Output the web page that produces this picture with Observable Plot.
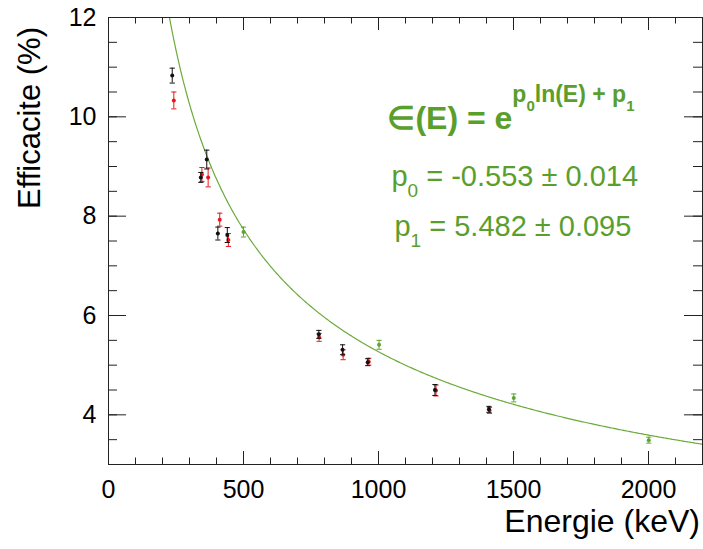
<!DOCTYPE html>
<html>
<head>
<meta charset="utf-8">
<script src="https://cdn.jsdelivr.net/npm/d3@7"></script>
<script src="https://cdn.jsdelivr.net/npm/@observablehq/plot@0.6"></script>
<style>
  html, body { margin: 0; padding: 0; background: white; }
  #chart { width: 703px; height: 549px; }
</style>
</head>
<body>
<div id="chart"></div>
<script>
// ---- data ----
const blackE   = [236, 342, 364, 405, 440, 779, 867, 960, 1209, 1409];
const blackEff = [10.83, 8.78, 9.14, 7.65, 7.62, 5.62, 5.31, 5.06, 4.50, 4.11];
const blackErr = [0.15, 0.10, 0.19, 0.13, 0.15, 0.08, 0.10, 0.07, 0.11, 0.06];

const redE   = [242, 346, 369, 412, 444, 780, 869, 964, 1213, 1411];
const redEff = [10.33, 8.84, 8.78, 7.93, 7.52, 5.56, 5.21, 5.07, 4.49, 4.09];
const redErr = [0.17, 0.14, 0.19, 0.13, 0.13, 0.08, 0.10, 0.07, 0.11, 0.06];

const greenE   = [500, 1002, 1501, 2001];
const greenEff = [7.68, 5.41, 4.34, 3.49];
const greenErr = [0.10, 0.09, 0.08, 0.06];

// fit parameters shown on the chart: eff(E) = exp(p0 ln(E) + p1)
const p0 = -0.553, p0Err = 0.014;
const p1 = 5.482,  p1Err = 0.095;
const fitRange = [200, 2200];

const xMajorTicks = [0, 500, 1000, 1500, 2000];
const yMajorTicks = [4, 6, 8, 10, 12];
const xMinorTicks = d3.range(0, 2201, 100);
const yMinorTicks = d3.range(3, 12.01, 0.5);

const xTitle = "Energie (keV)";
const yTitle = "Efficacite (%)";

// ---- build tables ----
const mk = (E, V, Er, s) => E.map((e, i) => ({E: e, v: V[i], err: Er[i], s}));
const red = mk(redE, redEff, redErr, "red");
const black = mk(blackE, blackEff, blackErr, "black");
const green = mk(greenE, greenEff, greenErr, "green");
const fitPts = d3.range(fitRange[0], fitRange[1] + 1, 4).map(E => ({E, v: Math.exp(p0 * Math.log(E) + p1)}));

const GREEN = "#5a9e2c";
const CURVE = "#6aab3a";
const COL = {red: "#e8161b", black: "#111111", green: "#5fa332"};

const W = 703, H = 549;
const mL = 108, mR = 1, mT = 17, mB = 85;
const fw = W - mL - mR, fh = H - mT - mB;

const capSymbol = {
  draw(ctx, size) {
    const r = Math.sqrt(size / Math.PI);
    ctx.moveTo(-r, 0); ctx.lineTo(r, 0);
  }
};

function seriesMarks(data) {
  const c = COL[data[0].s];
  return [
    Plot.ruleX(data, {x: "E", y1: d => d.v - d.err, y2: d => d.v + d.err, stroke: c, strokeWidth: 1}),
    Plot.dot(data, {x: "E", y: d => d.v - d.err, symbol: capSymbol, r: 2.6, stroke: c, strokeWidth: 1}),
    Plot.dot(data, {x: "E", y: d => d.v + d.err, symbol: capSymbol, r: 2.6, stroke: c, strokeWidth: 1}),
    Plot.dot(data, {x: "E", y: "v", r: 2, fill: c, stroke: "none"})
  ];
}

const plot = Plot.plot({
  width: W, height: H,
  marginLeft: mL, marginRight: mR, marginTop: mT, marginBottom: mB,
  x: {domain: [0, 2200]},
  y: {domain: [3, 12]},
  style: {fontFamily: "'Liberation Sans', Arial, Helvetica, sans-serif", background: "white", color: "black"},
  marks: [
    Plot.line(fitPts, {x: "E", y: "v", stroke: CURVE, strokeWidth: 1.2, clip: true}),
    ...seriesMarks(red),
    ...seriesMarks(black),
    ...seriesMarks(green),
    // minor / major ticks on all four sides (inside the frame)
    Plot.tickX(xMinorTicks, {x: d => d, insetTop: fh - 6.5, stroke: "#222"}),
    Plot.tickX(xMajorTicks, {x: d => d, insetTop: fh - 13, stroke: "#222"}),
    Plot.tickX(xMinorTicks, {x: d => d, insetBottom: fh - 6.5, stroke: "#222"}),
    Plot.tickX(xMajorTicks, {x: d => d, insetBottom: fh - 13, stroke: "#222"}),
    Plot.tickY(yMinorTicks, {y: d => d, insetRight: fw - 9, stroke: "#222"}),
    Plot.tickY(yMajorTicks, {y: d => d, insetRight: fw - 18, stroke: "#222"}),
    Plot.tickY(yMinorTicks, {y: d => d, insetLeft: fw - 9, stroke: "#222"}),
    Plot.tickY(yMajorTicks, {y: d => d, insetLeft: fw - 18, stroke: "#222"}),
    Plot.axisX(xMajorTicks, {tickSize: 0, tickPadding: 16, fontSize: 25, label: null, fill: "black", tickFormat: d => String(d)}),
    Plot.axisY(yMajorTicks, {tickSize: 0, tickPadding: 12, fontSize: 25, label: null, fill: "black", tickFormat: d => String(d)}),
    Plot.frame({stroke: "#222", strokeWidth: 1})
  ]
});

document.getElementById("chart").appendChild(plot);

const svg = d3.select(plot);
const fx = plot.scale("x"), fy = plot.scale("y");
const font = "'Liberation Sans', Arial, Helvetica, sans-serif";

// axis titles (right / top aligned as in the reference)
svg.append("text")
  .attr("x", fx.apply(2200) - 2).attr("y", 532)
  .attr("text-anchor", "end").attr("font-family", font).attr("font-size", 32)
  .attr("fill", "black").text(xTitle);
svg.append("text")
  .attr("transform", `translate(40, ${fy.apply(12) + 10}) rotate(-90)`)
  .attr("text-anchor", "end").attr("font-family", font).attr("font-size", 31)
  .attr("fill", "black").text(yTitle);

// fit annotation
const ax = fx.apply(1035);
const t1 = svg.append("text").attr("x", ax).attr("y", fy.apply(9.75))
  .attr("text-anchor", "start").attr("font-family", font).attr("fill", GREEN).attr("font-weight", "bold");
t1.append("tspan").attr("font-size", 32).text("\u2208(E) = e");
t1.append("tspan").attr("font-size", 23).attr("dy", -27).text("p");
t1.append("tspan").attr("font-size", 15).attr("dy", 9).text("0");
t1.append("tspan").attr("font-size", 23).attr("dy", -9).text("ln(E) + p");
t1.append("tspan").attr("font-size", 15).attr("dy", 9).text("1");

const t2 = svg.append("text").attr("x", ax + 4).attr("y", fy.apply(8.6))
  .attr("text-anchor", "start").attr("font-family", font).attr("fill", GREEN);
t2.append("tspan").attr("font-size", 29).text("p");
t2.append("tspan").attr("font-size", 19).attr("dy", 11).text("0");
t2.append("tspan").attr("font-size", 29).attr("dy", -11).text(` = ${p0.toFixed(3)} \u00b1 ${p0Err.toFixed(3)}`);

const t3 = svg.append("text").attr("x", ax + 7).attr("y", fy.apply(7.6))
  .attr("text-anchor", "start").attr("font-family", font).attr("fill", GREEN);
t3.append("tspan").attr("font-size", 29).text("p");
t3.append("tspan").attr("font-size", 19).attr("dy", 11).text("1");
t3.append("tspan").attr("font-size", 29).attr("dy", -11).text(` = ${p1.toFixed(3)} \u00b1 ${p1Err.toFixed(3)}`);
</script>
</body>
</html>
